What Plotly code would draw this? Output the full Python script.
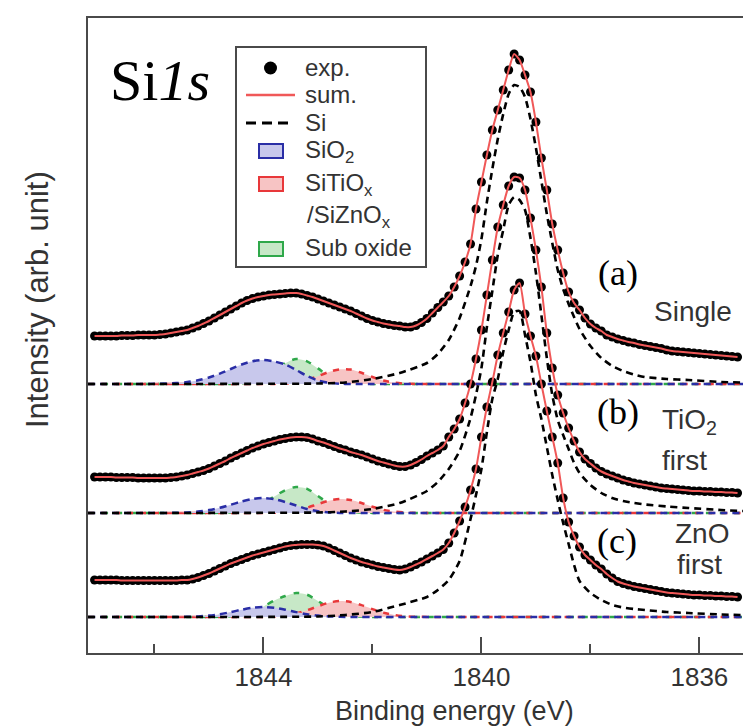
import plotly.graph_objects as go

# ---------------- figure geometry ----------------
W, H = 743, 727
L, R, T, B = 88, 0, 18, 74
PW, PH = W - L - R, H - T - B

# ---------------- data ----------------
X_RANGE = [1847.22, 1835.2]          # binding energy (eV), reversed axis
MAJOR_TICKS = [1844, 1840, 1836]
MINOR_TICKS = [1846, 1842, 1838]

# vertical stacking offsets of the three spectra (arb. units)
STACK_OFFSET = {"a": 269, "b": 140, "c": 36}

# experimental energy grid (0.1 eV steps)
E_EXP = [round(1847.1 - 0.1 * i, 1) for i in range(119)]

EXP_A = [48, 48, 48, 48, 48, 48.5, 48.5, 48.5, 49, 49,
         49, 49, 49.5, 50, 51, 52, 53, 54, 56, 58,
         60.5, 63, 66, 69, 72, 75, 78, 81, 83.5, 85.5,
         87, 88, 89, 89.5, 90, 90.5, 91, 91, 90, 88.5,
         87, 85, 83, 81, 79, 77, 75, 73, 70.5, 68,
         65.5, 63.5, 62, 60.5, 59.5, 58.5, 58, 57, 57, 58.5,
         61.5, 65.5, 71, 76.5, 82, 88, 97, 108, 122, 140,
         175, 202, 229, 254, 274, 294, 314, 330, 324, 309,
         292, 262, 226, 194, 160, 134, 111, 92, 81, 74,
         66, 60, 56, 53, 49, 47, 45, 43.5, 42, 41,
         39.5, 38.5, 37.5, 36.5, 35.5, 34, 33, 32.5, 32, 31.5,
         31, 30.5, 30, 29.5, 29, 28.5, 28, 27.5, 27]

EXP_B = [36, 36, 36, 36, 35.5, 35.5, 35.5, 35.5, 35, 35,
         35, 35, 35, 35, 35.5, 36, 37, 38, 39.5, 41,
         42.5, 44.5, 47, 49.5, 52, 55, 57.5, 60, 62.5, 65,
         67, 69, 70.5, 72, 73.5, 74.5, 75.5, 76, 76, 75.5,
         74, 72, 70.5, 68.5, 66.5, 64.5, 63, 61, 59.5, 58,
         56, 54, 52, 50.5, 49, 47.5, 46.5, 46.5, 48, 50.5,
         53.5, 57, 60, 63, 67, 76, 84, 94, 110, 129,
         154, 183, 218, 253, 286, 308, 327, 336, 335, 323,
         295, 263, 226, 180, 145, 118, 100, 85, 72, 61,
         54, 49.5, 45, 41.5, 39, 37, 35, 33, 31.5, 30,
         29, 28, 27, 26, 25, 24.5, 24, 23.5, 23, 22.5,
         22, 22, 21.5, 21.5, 21, 21, 20.5, 20.5, 20]

EXP_C = [37, 37, 37, 37, 37, 36.5, 36.5, 36.5, 36.5, 36.5,
         36.5, 36.5, 36.5, 36.5, 36.5, 36.5, 37, 37, 38, 39.5,
         41.5, 43.5, 46, 48.5, 51, 53.5, 55.5, 57.5, 59.5, 61.5,
         63, 64.5, 66, 67.5, 69, 70.5, 71.5, 72, 72.5, 72.5,
         72.5, 72, 71, 69, 66.5, 64, 61.5, 59, 57, 55,
         53.5, 52, 50.5, 49.5, 48.5, 47.5, 47, 48, 50, 52.5,
         55, 58, 61, 64, 67.5, 74, 84, 96, 110, 127,
         148, 180, 210, 235, 262, 284, 305, 327, 334, 303,
         281, 261, 233, 206, 180, 154, 119, 95, 81, 70,
         62, 57, 52, 48, 43, 39, 35.5, 33.5, 32, 30.5,
         29.5, 28.5, 27.5, 26.5, 25.5, 24.5, 24, 23.5, 23, 22.5,
         22, 22, 21.5, 21.5, 21, 21, 20.5, 20.5, 20]

# Si component (metallic Si)
SI_E = [1847.22, 1843.0, 1842.5, 1842.0, 1841.5, 1841.0, 1840.8, 1840.6, 1840.4, 1840.2,
        1840.1, 1840.0, 1839.9, 1839.8, 1839.7, 1839.6, 1839.5, 1839.4, 1839.3, 1839.2,
        1839.1, 1839.0, 1838.9, 1838.8, 1838.7, 1838.6, 1838.5, 1838.4, 1838.3, 1838.2,
        1838.0, 1837.8, 1837.6, 1837.4, 1837.2, 1837.0, 1836.6, 1836.2, 1835.6, 1835.2]
SI_A = [0, 0.5, 1.5, 5, 11, 21, 30, 44, 66, 98,
        118, 145, 182, 215, 245, 270, 290, 299, 297, 287,
        265, 236, 203, 170, 141, 114, 95, 80, 67, 55,
        38, 26, 18, 13, 9.5, 7, 5, 4, 2, 1.5]
SI_B = [0, 0.5, 1.5, 4, 10, 22, 31, 44, 62, 95,
        118, 145, 186, 222, 258, 283, 308, 316, 313, 303,
        275, 240, 198, 155, 118, 93, 78, 64, 50, 40,
        28, 20, 15, 12, 10, 8.5, 6.5, 5, 3, 2]
SI_C = [0, 0.5, 2, 5, 12, 20, 27, 37, 56, 98,
        122, 148, 185, 218, 238, 265, 287, 305, 306, 282,
        255, 222, 198, 170, 142, 117, 94, 73, 52, 36,
        24, 17, 12, 9.5, 8, 7, 5, 4, 2.5, 2]

# oxide components
CMP_E = [1847.22, 1846.2, 1846.0, 1845.8, 1845.6, 1845.4, 1845.2, 1845.0, 1844.8, 1844.6,
         1844.4, 1844.2, 1844.0, 1843.8, 1843.6, 1843.4, 1843.2, 1843.0, 1842.8, 1842.6,
         1842.4, 1842.2, 1842.0, 1841.8, 1841.6, 1841.4, 1841.2, 1840.8, 1835.2]
SIO2_A = [0, 0.05, 0.15, 0.4, 0.9, 1.9, 3.7, 6.5, 10.4, 15.0,
          19.5, 22.8, 24, 22.5, 19.5, 14, 8, 3.5, 1.2, 0.3,
          0, 0, 0, 0, 0, 0, 0, 0, 0]
SUB_A = [0, 0, 0, 0, 0, 0, 0, 0, 0, 0.1,
         0.6, 2.3, 6.3, 13.2, 20.8, 25, 22.6, 15.6, 8.1, 3.2,
         1.0, 0.2, 0, 0, 0, 0, 0, 0, 0]
SITIO_A = [0, 0, 0, 0, 0, 0, 0, 0, 0, 0,
           0, 0, 0, 0.1, 0.55, 1.7, 4.0, 7.8, 12.0, 14.7,
           14.4, 11.2, 7.0, 3.5, 1.4, 0.4, 0.1, 0, 0]
SIO2_B = [0, 0, 0, 0.1, 0.2, 0.6, 1.4, 2.9, 5.2, 8.3,
          11.5, 14.0, 15, 13.8, 11, 7.5, 4, 1.8, 0.6, 0.1,
          0, 0, 0, 0, 0, 0, 0, 0, 0]
SUB_B = [0, 0, 0, 0, 0, 0, 0, 0, 0.15, 0.6,
         1.9, 4.7, 9.8, 16.5, 22.8, 26, 24.2, 17, 9.5, 4.2,
         1.5, 0.4, 0.1, 0, 0, 0, 0, 0, 0]
SITIO_B = [0, 0, 0, 0, 0, 0, 0, 0, 0, 0,
           0, 0, 0, 0.3, 1.0, 2.5, 5.3, 8.9, 12.3, 14,
           13.0, 10.0, 6.3, 3.2, 1.4, 0.5, 0.1, 0, 0]
SIO2_C = [0, 0, 0, 0, 0.1, 0.2, 0.6, 1.4, 2.8, 4.9,
          7.3, 9.2, 10, 9.2, 7.3, 4.9, 2.8, 1.4, 0.6, 0.2,
          0, 0, 0, 0, 0, 0, 0, 0, 0]
SUB_C = [0, 0, 0, 0, 0, 0, 0, 0, 0.2, 0.8,
         2.2, 5.2, 10.5, 16.5, 21.0, 24, 22.3, 16, 9, 4,
         1.4, 0.4, 0.1, 0, 0, 0, 0, 0, 0]
SITIO_C = [0, 0, 0, 0, 0, 0, 0, 0, 0, 0,
           0, 0, 0, 0.6, 1.6, 3.6, 6.8, 10.7, 14.3, 16,
           15.0, 11.9, 7.9, 4.4, 2.1, 0.8, 0.3, 0, 0]

SPECTRA = [
    ("a", EXP_A, SI_A, SIO2_A, SITIO_A, SUB_A),
    ("b", EXP_B, SI_B, SIO2_B, SITIO_B, SUB_B),
    ("c", EXP_C, SI_C, SIO2_C, SITIO_C, SUB_C),
]

# ---------------- styles ----------------
BLUE_LINE, BLUE_FILL = "#2a2ea6", "#c8c8ec"
RED_LINE, RED_FILL = "#e8383a", "#f7c4c4"
GREEN_LINE, GREEN_FILL = "#2fa84a", "#c7e8c7"
SUM_RED = "#f05858"
AXIS_COL = "#4a4a4a"
TEXT_COL = "#333333"


def px(x):
    return (x - L) / PW


def py(y):
    return (H - B - y) / PH


fig = go.Figure()

for key, exp, si, sio2, sitio, sub in SPECTRA:
    off = STACK_OFFSET[key]
    comps = [(sub, GREEN_LINE, GREEN_FILL, "6px,8px"),
             (sitio, RED_LINE, RED_FILL, "6px,7px"),
             (sio2, BLUE_LINE, BLUE_FILL, "7px,5px")]
    for vals, lc, fc, dash in comps:
        fig.add_trace(go.Scatter(x=X_RANGE, y=[off, off], mode="lines",
                                 line=dict(width=0), hoverinfo="skip",
                                 showlegend=False))
        fig.add_trace(go.Scatter(x=CMP_E, y=[v + off for v in vals], mode="lines",
                                 line=dict(color=lc, width=2.5, dash=dash,
                                           shape="spline", smoothing=0.8),
                                 fill="tonexty", fillcolor=fc,
                                 showlegend=False))
    fig.add_trace(go.Scatter(x=SI_E, y=[v + off for v in si], mode="lines",
                             line=dict(color="black", width=2.6, dash="7px,5px",
                                       shape="spline", smoothing=0.6),
                             showlegend=False))
    fig.add_trace(go.Scatter(x=E_EXP, y=[v + off for v in exp], mode="markers",
                             marker=dict(color="black", size=9),
                             showlegend=False))
    fig.add_trace(go.Scatter(x=E_EXP, y=[v + off for v in exp], mode="lines",
                             line=dict(color=SUM_RED, width=2, shape="spline",
                                       smoothing=0.6),
                             showlegend=False))

# ---------------- legend (drawn manually) ----------------
shapes = [
    dict(type="rect", xref="paper", yref="paper", x0=px(236), x1=px(426),
         y0=py(267), y1=py(47), line=dict(color=AXIS_COL, width=2)),
    dict(type="circle", xref="paper", yref="paper", x0=px(264), x1=px(277),
         y0=py(74.5), y1=py(61.5), fillcolor="black", line=dict(color="black", width=0)),
    dict(type="line", xref="paper", yref="paper", x0=px(246), x1=px(295),
         y0=py(95), y1=py(95), line=dict(color=SUM_RED, width=2.5)),
    dict(type="line", xref="paper", yref="paper", x0=px(246), x1=px(293),
         y0=py(123), y1=py(123), line=dict(color="black", width=3, dash="10px,6px")),
    dict(type="rect", xref="paper", yref="paper", x0=px(259), x1=px(283),
         y0=py(158), y1=py(144), fillcolor=BLUE_FILL, line=dict(color=BLUE_LINE, width=2)),
    dict(type="rect", xref="paper", yref="paper", x0=px(259), x1=px(283),
         y0=py(191), y1=py(177), fillcolor=RED_FILL, line=dict(color=RED_LINE, width=2)),
    dict(type="rect", xref="paper", yref="paper", x0=px(259), x1=px(283),
         y0=py(256), y1=py(242), fillcolor=GREEN_FILL, line=dict(color=GREEN_LINE, width=2)),
]

SANS = "Liberation Sans, Arial, sans-serif"
SERIF = "Liberation Serif, Times New Roman, serif"


def ann(text, x, y, size, family=SANS, xanchor="left", color=TEXT_COL, angle=0):
    return dict(text=text, x=px(x), y=py(y), xref="paper", yref="paper",
                showarrow=False, xanchor=xanchor, yanchor="middle",
                font=dict(family=family, size=size, color=color), textangle=angle)


annotations = [
    ann("exp.", 303, 67, 24),
    ann("sum.", 303, 95, 24),
    ann("Si", 303, 122, 24),
    ann("SiO<sub>2</sub>", 303, 151, 24),
    ann("SiTiO<sub>x</sub>", 303, 184, 24),
    ann("/SiZnO<sub>x</sub>", 305, 217, 24),
    ann("Sub oxide", 303, 247, 24),
    ann("Si<i>1s</i>", 108, 80, 58, family=SERIF, color="black"),
    ann("(a)", 618, 273, 36, family=SERIF, xanchor="center", color="black"),
    ann("(b)", 618, 412, 36, family=SERIF, xanchor="center", color="black"),
    ann("(c)", 617, 541, 36, family=SERIF, xanchor="center", color="black"),
    ann("Single", 652, 311, 28),
    ann("TiO<sub>2</sub>", 660, 421, 28),
    ann("first", 660, 460, 28),
    ann("ZnO", 673, 533, 28),
    ann("first", 675, 564, 28),
    ann("Binding energy (eV)", 455, 711, 27, xanchor="center"),
    ann("Intensity (arb. unit)", 37, 300, 31, xanchor="center", angle=-90),
]

fig.update_layout(
    width=W, height=H,
    margin=dict(l=L, r=R, t=T, b=B, pad=0),
    paper_bgcolor="white", plot_bgcolor="white",
    showlegend=False,
    shapes=shapes, annotations=annotations,
    xaxis=dict(range=X_RANGE, showgrid=False, zeroline=False,
               showline=True, mirror=True, linecolor=AXIS_COL, linewidth=2,
               ticks="inside", ticklen=16, tickwidth=1.6, tickcolor=AXIS_COL,
               tickmode="array", tickvals=MAJOR_TICKS,
               ticktext=[str(v) for v in MAJOR_TICKS],
               ticklabelstandoff=0,
               tickfont=dict(family=SANS, size=26, color=TEXT_COL),
               minor=dict(tickmode="array", tickvals=MINOR_TICKS, ticks="inside",
                          ticklen=9, tickwidth=1.6, tickcolor=AXIS_COL)),
    yaxis=dict(range=[0, PH], showgrid=False, zeroline=False,
               showline=True, mirror=False, linecolor=AXIS_COL, linewidth=2,
               ticks="", showticklabels=False),
)

fig.write_html(
    "out.html",
    config={"displayModeBar": False},
    post_script="document.body.style.margin='0';document.body.style.overflow='hidden';",
)
